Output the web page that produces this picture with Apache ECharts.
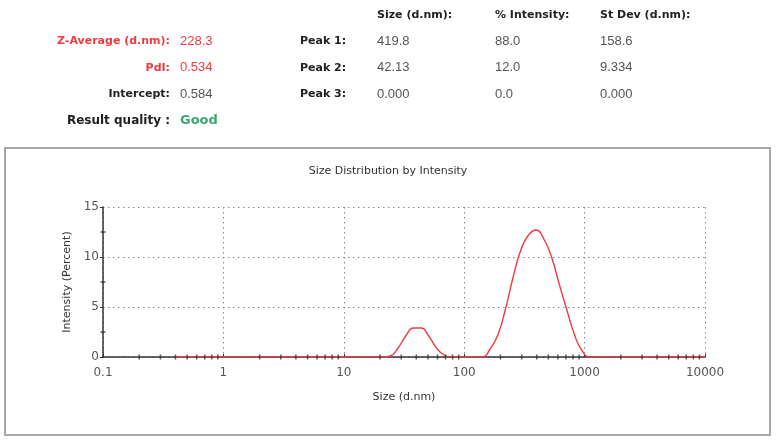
<!DOCTYPE html>
<html>
<head>
<meta charset="utf-8">
<script src="https://cdn.jsdelivr.net/npm/echarts@6/dist/echarts.min.js"></script>
<style>
  html, body { margin: 0; padding: 0; background: #fff; }
  #chart { width: 776px; height: 443px; }
</style>
</head>
<body>
<div id="chart"></div>
<script>
// size bins (d.nm) and intensity (%)
var sizes = [0.4, 0.4632, 0.5365, 0.6213, 0.7195, 0.8332, 0.9649, 1.117, 1.294, 1.499,
  1.736, 2.010, 2.328, 2.696, 3.122, 3.615, 4.187, 4.849, 5.615, 6.503,
  7.531, 8.721, 10.10, 11.70, 13.54, 15.69, 18.17, 21.04, 24.36, 28.21,
  32.67, 37.84, 43.82, 50.75, 58.77, 68.06, 78.82, 91.28, 105.7, 122.4,
  141.8, 164.2, 190.1, 220.2, 255.0, 295.3, 342.0, 396.1, 458.7, 531.2,
  615.1, 712.4, 825.0, 955.4, 1106, 1281, 1484, 1718, 1990, 2305,
  2669, 3091, 3580, 4145, 4801, 5560, 6439, 7456, 8635, 10000];
var intensity = [0, 0, 0, 0, 0, 0, 0, 0, 0, 0,
  0, 0, 0, 0, 0, 0, 0, 0, 0, 0,
  0, 0, 0, 0, 0, 0, 0, 0, 0.1, 0.9,
  2.1, 2.9, 2.9, 2.1, 0.9, 0.2, 0, 0, 0, 0,
  0, 0.8, 2.2, 4.8, 8.0, 10.7, 12.2, 12.7, 11.8, 10.0,
  7.3, 4.7, 2.2, 0.6, 0, 0, 0, 0, 0, 0,
  0, 0, 0, 0, 0, 0, 0, 0, 0, 0];

// minor tick positions on the axes
var xMinorTicks = [0.2, 0.3, 0.4, 0.5, 0.6, 0.7, 0.8, 0.9,
  2, 3, 4, 5, 6, 7, 8, 9,
  20, 30, 40, 50, 60, 70, 80, 90,
  200, 300, 400, 500, 600, 700, 800, 900,
  2000, 3000, 4000, 5000, 6000, 7000, 8000, 9000];
var yMinorTicks = [2.5, 7.5, 12.5];

// header table
var summaryLabels = ["Z-Average (d.nm):", "PdI:", "Intercept:", "Result quality :"];
var summaryValues = ["228.3", "0.534", "0.584", "Good"];
var peakLabels = ["Peak 1:", "Peak 2:", "Peak 3:"];
var peakHeaders = ["Size (d.nm):", "% Intensity:", "St Dev (d.nm):"];
var peakSize = ["419.8", "42.13", "0.000"];
var peakIntensity = ["88.0", "12.0", "0.0"];
var peakStDev = ["158.6", "9.334", "0.000"];

var LABEL_FONT = '"DejaVu Sans", Verdana, sans-serif';
var VALUE_FONT = '"Liberation Sans", Arial, sans-serif';
var RED = "#ee3b42";

var chart = echarts.init(document.getElementById("chart"));

var graphics = [];
graphics.push({
  type: "rect",
  shape: { x: 5, y: 148, width: 765, height: 287 },
  style: { fill: "none", stroke: "#a8a8a8", lineWidth: 2 },
  silent: true,
});
var summaryColors = [RED, RED, "#222", "#222"];
var valueColors = [RED, RED, "#555", "#3aa870"];
summaryLabels.forEach(function (t, i) {
  var y = 41 + i * 26.7;
  graphics.push({
    type: "text", x: 170, y: y,
    style: { text: t, fill: summaryColors[i], font: (i === 3 ? "bold 12px " : "bold 11px ") + LABEL_FONT, align: "right", verticalAlign: "middle" },
  });
  graphics.push({
    type: "text", x: 180, y: y,
    style: {
      text: summaryValues[i], fill: valueColors[i],
      font: i === 3 ? "bold 13px " + LABEL_FONT : "13px " + VALUE_FONT,
      align: "left", verticalAlign: "middle",
    },
  });
});
var cols = [377, 495, 600];
peakHeaders.forEach(function (t, i) {
  graphics.push({
    type: "text", x: cols[i], y: 15,
    style: { text: t, fill: "#222", font: "bold 11px " + LABEL_FONT, align: "left", verticalAlign: "middle" },
  });
});
peakLabels.forEach(function (t, i) {
  var y = 41 + i * 26.7;
  graphics.push({
    type: "text", x: 300, y: y,
    style: { text: t, fill: "#222", font: "bold 11px " + LABEL_FONT, align: "left", verticalAlign: "middle" },
  });
  [peakSize[i], peakIntensity[i], peakStDev[i]].forEach(function (v, j) {
    graphics.push({
      type: "text", x: cols[j], y: y,
      style: { text: v, fill: "#555", font: "13px " + VALUE_FONT, align: "left", verticalAlign: "middle" },
    });
  });
});

var option = {
  backgroundColor: "#fff",
  animation: false,
  textStyle: { fontFamily: LABEL_FONT },
  title: {
    text: "Size Distribution by Intensity",
    left: "center",
    top: 161,
    textStyle: { fontSize: 11, fontWeight: "normal", color: "#333", fontFamily: LABEL_FONT },
  },
  grid: { left: 103, right: 71, top: 207, bottom: 86 },
  xAxis: {
    type: "log",
    logBase: 10,
    min: 0.1,
    max: 10000,
    name: "Size (d.nm)",
    nameLocation: "middle",
    nameGap: 35,
    nameTextStyle: { fontSize: 11, color: "#333", fontFamily: LABEL_FONT },
    axisLine: { lineStyle: { color: "#333", width: 1.5 } },
    axisTick: { show: true, length: 3, inside: true, lineStyle: { color: "#333" } },
    axisLabel: {
      fontSize: 12, color: "#555", margin: 10, fontFamily: LABEL_FONT,
      formatter: function (v) { return String(+v.toPrecision(6)); },
    },
    splitLine: { show: true, lineStyle: { type: [1.5, 3.5], color: "#888" } },
  },
  yAxis: {
    type: "value",
    min: 0,
    max: 15,
    interval: 5,
    name: "Intensity (Percent)",
    nameLocation: "middle",
    nameGap: 30,
    nameTextStyle: { fontSize: 11, color: "#333", fontFamily: LABEL_FONT },
    axisLine: { show: true, lineStyle: { color: "#333", width: 1.5 } },
    axisTick: { show: true, length: 3, lineStyle: { color: "#333" } },
    axisLabel: { fontSize: 12, color: "#555", margin: 4, fontFamily: LABEL_FONT },
    splitLine: { show: true, lineStyle: { type: [1.5, 3.5], color: "#888" } },
  },
  series: [
    {
      type: "line",
      data: sizes.map(function (s, i) { return [s, intensity[i]]; }),
      smooth: 0.5,
      showSymbol: false,
      lineStyle: { color: RED, width: 1.4 },
      z: 3,
    },
    {
      type: "scatter",
      data: xMinorTicks.map(function (s) { return [s, 0]; }),
      symbol: "rect",
      symbolSize: [1.5, 5],
      itemStyle: { color: "#333" },
      silent: true,
      z: 4,
    },
    {
      type: "scatter",
      data: yMinorTicks.map(function (v) { return [0.1, v]; }),
      symbol: "rect",
      symbolSize: [5, 1.5],
      itemStyle: { color: "#333" },
      silent: true,
      z: 4,
    },
  ],
  graphic: graphics,
};
chart.setOption(option);
</script>
</body>
</html>
